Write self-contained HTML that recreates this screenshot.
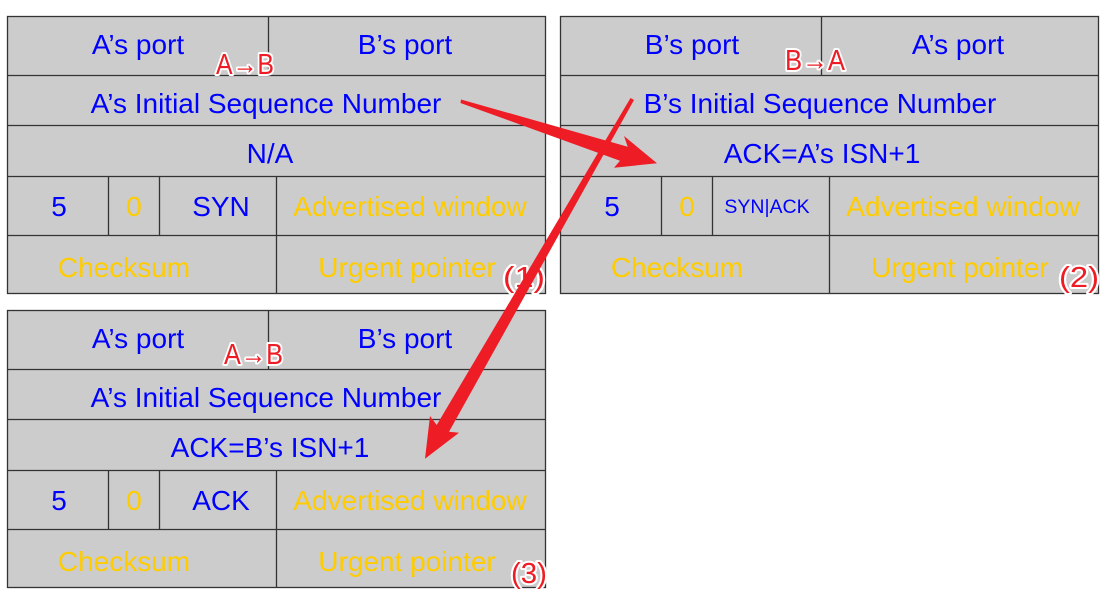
<!DOCTYPE html>
<html><head><meta charset="utf-8"><style>
html,body{margin:0;padding:0;background:#fff;width:1118px;height:607px;overflow:hidden}
svg{display:block}
.b{fill:#0000ff}.y{fill:#ffcc00}
text{font-family:"Liberation Sans",sans-serif;font-size:28px;text-anchor:middle}
.l{stroke:#333;stroke-width:1.3;fill:none}
.box{fill:#cccccc;stroke:#333;stroke-width:1.3}
.h{font-size:29px;fill:#ee1c25;stroke:#fff;stroke-width:4px;paint-order:stroke;stroke-linejoin:round;font-family:"Liberation Sans",sans-serif;text-anchor:start}
</style></head><body>
<svg width="1118" height="607" viewBox="0 0 1118 607" xmlns="http://www.w3.org/2000/svg">
<!-- Box 1 -->
<rect class="box" x="7.5" y="16.5" width="538" height="277"/>
<path class="l" d="M8 75.5H545M8 125.5H545M8 176.5H545M8 235.5H545M268.5 16V75M108.5 176V235M159.5 176V235M276.5 176V293"/>
<text class="b" x="138" y="54">A’s port</text><text class="b" x="405" y="54">B’s port</text>
<text class="b" x="266" y="113">A’s Initial Sequence Number</text>
<text class="b" x="270" y="163">N/A</text>
<text class="b" x="59" y="216">5</text><text class="y" x="134" y="216">0</text><text class="b" x="221" y="216">SYN</text><text class="y" x="410" y="216">Advertised window</text>
<text class="y" x="124" y="277">Checksum</text><text class="y" x="407" y="277">Urgent pointer</text>
<!-- Box 2 -->
<rect class="box" x="560.5" y="16.5" width="538" height="277"/>
<path class="l" d="M561 75.5H1098M561 125.5H1098M561 176.5H1098M561 235.5H1098M821.5 16V75M661.5 176V235M712.5 176V235M829.5 176V293"/>
<text class="b" x="692" y="54">B’s port</text><text class="b" x="958" y="54">A’s port</text>
<text class="b" x="820" y="113">B’s Initial Sequence Number</text>
<text class="b" x="822" y="163">ACK=A’s ISN+1</text>
<text class="b" x="612" y="216">5</text><text class="y" x="687" y="216">0</text><text class="b" x="767" y="213" style="font-size:19.5px">SYN|ACK</text><text class="y" x="963" y="216">Advertised window</text>
<text class="y" x="677" y="277">Checksum</text><text class="y" x="960" y="277">Urgent pointer</text>
<!-- Box 3 -->
<rect class="box" x="7.5" y="310.5" width="538" height="277"/>
<path class="l" d="M8 369.5H545M8 419.5H545M8 470.5H545M8 529.5H545M268.5 310V369M108.5 470V529M159.5 470V529M276.5 470V587"/>
<text class="b" x="138" y="348">A’s port</text><text class="b" x="405" y="348">B’s port</text>
<text class="b" x="266" y="407">A’s Initial Sequence Number</text>
<text class="b" x="270" y="457">ACK=B’s ISN+1</text>
<text class="b" x="59" y="510">5</text><text class="y" x="134" y="510">0</text><text class="b" x="221" y="510">ACK</text><text class="y" x="410" y="510">Advertised window</text>
<text class="y" x="124" y="571">Checksum</text><text class="y" x="407" y="571">Urgent pointer</text>
<!-- Handwritten labels -->
<text class="h" x="216" y="74" textLength="58" lengthAdjust="spacingAndGlyphs">A→B</text>
<text class="h" x="785" y="70" textLength="60" lengthAdjust="spacingAndGlyphs">B→A</text>
<text class="h" x="224" y="364" textLength="59" lengthAdjust="spacingAndGlyphs">A→B</text>
<text class="h" x="503" y="287" textLength="42" lengthAdjust="spacingAndGlyphs">(1)</text>
<text class="h" x="1059" y="287" textLength="40" lengthAdjust="spacingAndGlyphs">(2)</text>
<text class="h" x="511" y="583" textLength="36" lengthAdjust="spacingAndGlyphs">(3)</text>
<!-- Arrows -->
<polygon fill="#ee1c25" points="461,99.5 627.7,146.7 624,136 657,163.3 614,167.7 620,160.7 460.5,103"/>
<polygon fill="#ee1c25" points="630.5,98 634,100 449,431.7 459,432.7 425,458.7 430,416 436.7,425"/>
</svg>
</body></html>
